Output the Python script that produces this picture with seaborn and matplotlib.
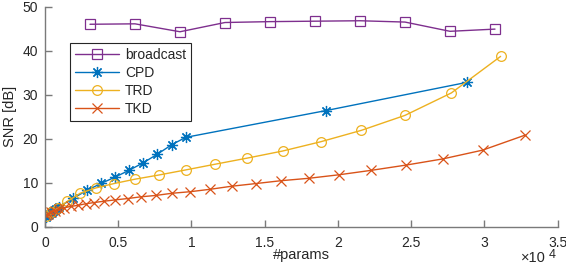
import numpy as np
import pandas as pd
import matplotlib
matplotlib.use("Agg")
import matplotlib.pyplot as plt
import seaborn as sns

# ---- data ----
broadcast_x = [3072, 6144, 9216, 12288, 15360, 18432, 21504, 24576, 27648, 30720]
broadcast_y = [46.0, 46.1, 44.3, 46.4, 46.6, 46.7, 46.8, 46.5, 44.4, 44.9]

cpd_x = [96, 192, 288, 384, 480, 576, 672, 768, 864, 960,
         1920, 2880, 3840, 4800, 5760, 6720, 7680, 8640, 9600, 19200, 28800]
cpd_y = [2.3, 2.6, 2.9, 3.1, 3.4, 3.6, 3.8, 4.0, 4.2, 4.5,
         6.45, 8.3, 9.85, 11.3, 12.85, 14.55, 16.5, 18.6, 20.3, 26.4, 32.8]

trd_x = [96, 384, 864, 1536, 2400, 3456, 4704, 6144, 7776, 9600, 11616,
         13824, 16224, 18816, 21600, 24576, 27744, 31104]
trd_y = [2.5, 3.3, 4.2, 5.8, 7.6, 8.8, 9.8, 10.8, 11.75, 12.9, 14.2,
         15.6, 17.2, 19.3, 21.9, 25.3, 30.4, 38.7]

tkd_x = [100, 230, 420, 660, 960, 1330, 1752, 2230, 2775, 3367, 4051, 4800,
         5643, 6553, 7556, 8669, 9898, 11263, 12744, 14382, 16100, 18000,
         20068, 22250, 24642, 27145, 29877, 32765]
tkd_y = [2.6, 2.9, 3.3, 3.6, 4.0, 4.3, 4.6, 4.85, 5.2, 5.5, 5.8, 6.1,
         6.4, 6.8, 7.1, 7.6, 7.95, 8.5, 9.2, 9.8, 10.45, 11.0,
         11.8, 12.8, 14.0, 15.4, 17.4, 20.8]

x_tick_labels = ["0", "0.5", "1", "1.5", "2", "2.5", "3", "3.5"]
methods = ["broadcast", "CPD", "TRD", "TKD"]
colors = {"broadcast": "#7E2F8E", "CPD": "#0072BD", "TRD": "#EDB120", "TKD": "#D95319"}
markers = {"broadcast": "s", "CPD": (8, 2, 0), "TRD": "o", "TKD": "x"}

frames = []
for name, xs, ys in [("broadcast", broadcast_x, broadcast_y), ("CPD", cpd_x, cpd_y),
                     ("TRD", trd_x, trd_y), ("TKD", tkd_x, tkd_y)]:
    frames.append(pd.DataFrame({"params": xs, "snr": ys, "method": name}))
df = pd.concat(frames, ignore_index=True)

sns.set_style("ticks")
plt.rcParams["font.family"] = ["Liberation Sans", "DejaVu Sans"]

W, H = 566, 272
fig = plt.figure(figsize=(W / 100, H / 100), dpi=100)
ax = fig.add_axes([0.0795, 0.1665, 0.9058, 0.809])

for name in methods:
    sub = df[df["method"] == name]
    sns.lineplot(data=sub, x="params", y="snr", color=colors[name],
                 marker=markers[name], estimator=None, sort=False, ax=ax,
                 linewidth=1.0, markersize=7 if name != "CPD" else 8,
                 legend=False)

lines = ax.get_lines()
for line, name in zip(lines, methods):
    line.set_markerfacecolor("none")
    line.set_markeredgecolor(colors[name])
    line.set_markeredgewidth(0.9)

ax.set_xlim(0, 35000)
ax.set_ylim(0, 50)
ax.set_xticks(np.arange(0, 35001, 5000))
ax.set_xticklabels(x_tick_labels)
ax.set_yticks([0, 10, 20, 30, 40, 50])

spine_col = "#7a7a7a"
text_col = "#262626"
for s in ["top", "right"]:
    ax.spines[s].set_visible(False)
for s in ["left", "bottom"]:
    ax.spines[s].set_color(spine_col)
    ax.spines[s].set_linewidth(1.0)
ax.tick_params(direction="in", length=5, width=1.0, color=spine_col,
               labelsize=10, labelcolor=text_col)
ax.tick_params(axis="x", pad=7)
ax.tick_params(axis="y", pad=5)

ax.set_xlabel("#params", fontsize=10.5, color=text_col, labelpad=-2)
ax.set_ylabel("SNR [dB]", fontsize=10.5, color=text_col, labelpad=4)

# x10^4 exponent label (figure pixel coordinates, origin bottom-left)
fig.text(546 / W, (H - 262) / H, "×10", ha="right", va="baseline",
         fontsize=10.5, color=text_col)
fig.text(549 / W, (H - 258) / H, "4", ha="left", va="baseline",
         fontsize=9, color=text_col)

leg = ax.legend(handles=list(lines[:4]), labels=methods, loc="upper left",
                bbox_to_anchor=(0.049, 0.835), fontsize=10, frameon=True,
                fancybox=False, framealpha=1, edgecolor="#262626",
                borderpad=0.35, labelspacing=0.3, handlelength=3.2,
                handletextpad=0.4, borderaxespad=0)
leg.get_frame().set_linewidth(0.8)
for t in leg.get_texts():
    t.set_color(text_col)

fig.savefig("out.png", dpi=100)
